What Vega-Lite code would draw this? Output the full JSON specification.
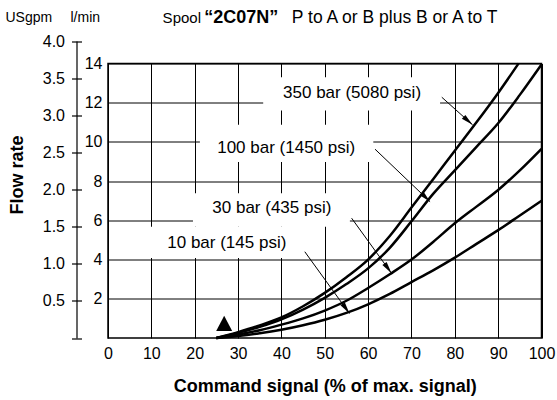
{
  "$schema": "https://vega.github.io/schema/vega-lite/v6.json",
  "width": 433.5,
  "height": 274.5,
  "autosize": {"type": "none"},
  "padding": {"left": 108, "top": 63.5, "right": 15.5, "bottom": 62},
  "config": {
    "font": "Liberation Sans",
    "view": {"stroke": "black", "strokeWidth": 1.5},
    "axis": {"labelFont": "Liberation Sans", "titleFont": "Liberation Sans", "labelColor": "black", "titleColor": "black"},
    "text": {"font": "Liberation Sans", "color": "black"}
  },
  "datasets": {
    "curves": [
      {"signal": 25, "flow": 0, "pressure": "350 bar"},
      {"signal": 30, "flow": 0.3, "pressure": "350 bar"},
      {"signal": 35, "flow": 0.64, "pressure": "350 bar"},
      {"signal": 40, "flow": 1.05, "pressure": "350 bar"},
      {"signal": 45, "flow": 1.62, "pressure": "350 bar"},
      {"signal": 50, "flow": 2.3, "pressure": "350 bar"},
      {"signal": 55, "flow": 3.1, "pressure": "350 bar"},
      {"signal": 60, "flow": 4.0, "pressure": "350 bar"},
      {"signal": 65, "flow": 5.2, "pressure": "350 bar"},
      {"signal": 70, "flow": 6.65, "pressure": "350 bar"},
      {"signal": 75, "flow": 8.1, "pressure": "350 bar"},
      {"signal": 80, "flow": 9.55, "pressure": "350 bar"},
      {"signal": 85, "flow": 11.0, "pressure": "350 bar"},
      {"signal": 90, "flow": 12.5, "pressure": "350 bar"},
      {"signal": 94.7, "flow": 14, "pressure": "350 bar"},
      {"signal": 25, "flow": 0, "pressure": "100 bar"},
      {"signal": 30, "flow": 0.26, "pressure": "100 bar"},
      {"signal": 35, "flow": 0.57, "pressure": "100 bar"},
      {"signal": 40, "flow": 0.95, "pressure": "100 bar"},
      {"signal": 45, "flow": 1.45, "pressure": "100 bar"},
      {"signal": 50, "flow": 2.05, "pressure": "100 bar"},
      {"signal": 55, "flow": 2.75, "pressure": "100 bar"},
      {"signal": 60, "flow": 3.55, "pressure": "100 bar"},
      {"signal": 65, "flow": 4.6, "pressure": "100 bar"},
      {"signal": 70, "flow": 5.95, "pressure": "100 bar"},
      {"signal": 75, "flow": 7.35, "pressure": "100 bar"},
      {"signal": 80, "flow": 8.55, "pressure": "100 bar"},
      {"signal": 85, "flow": 9.75, "pressure": "100 bar"},
      {"signal": 90, "flow": 10.95, "pressure": "100 bar"},
      {"signal": 95, "flow": 12.4, "pressure": "100 bar"},
      {"signal": 100, "flow": 13.95, "pressure": "100 bar"},
      {"signal": 25, "flow": 0, "pressure": "30 bar"},
      {"signal": 30, "flow": 0.18, "pressure": "30 bar"},
      {"signal": 35, "flow": 0.4, "pressure": "30 bar"},
      {"signal": 40, "flow": 0.68, "pressure": "30 bar"},
      {"signal": 45, "flow": 1.0, "pressure": "30 bar"},
      {"signal": 50, "flow": 1.4, "pressure": "30 bar"},
      {"signal": 55, "flow": 1.9, "pressure": "30 bar"},
      {"signal": 60, "flow": 2.55, "pressure": "30 bar"},
      {"signal": 65, "flow": 3.25, "pressure": "30 bar"},
      {"signal": 70, "flow": 4.0, "pressure": "30 bar"},
      {"signal": 75, "flow": 4.9, "pressure": "30 bar"},
      {"signal": 80, "flow": 5.85, "pressure": "30 bar"},
      {"signal": 85, "flow": 6.7, "pressure": "30 bar"},
      {"signal": 90, "flow": 7.55, "pressure": "30 bar"},
      {"signal": 95, "flow": 8.55, "pressure": "30 bar"},
      {"signal": 100, "flow": 9.65, "pressure": "30 bar"},
      {"signal": 25, "flow": 0, "pressure": "10 bar"},
      {"signal": 30, "flow": 0.1, "pressure": "10 bar"},
      {"signal": 35, "flow": 0.24, "pressure": "10 bar"},
      {"signal": 40, "flow": 0.42, "pressure": "10 bar"},
      {"signal": 45, "flow": 0.65, "pressure": "10 bar"},
      {"signal": 50, "flow": 0.93, "pressure": "10 bar"},
      {"signal": 55, "flow": 1.28, "pressure": "10 bar"},
      {"signal": 60, "flow": 1.72, "pressure": "10 bar"},
      {"signal": 65, "flow": 2.25, "pressure": "10 bar"},
      {"signal": 70, "flow": 2.85, "pressure": "10 bar"},
      {"signal": 75, "flow": 3.45, "pressure": "10 bar"},
      {"signal": 80, "flow": 4.1, "pressure": "10 bar"},
      {"signal": 85, "flow": 4.8, "pressure": "10 bar"},
      {"signal": 90, "flow": 5.5, "pressure": "10 bar"},
      {"signal": 95, "flow": 6.25, "pressure": "10 bar"},
      {"signal": 100, "flow": 7.0, "pressure": "10 bar"}
    ]
  },
  "layer": [
    {
      "layer": [
        {"data": {"values": [{}]}, "mark": {"type": "rect", "color": "white"},
          "encoding": {"x": {"datum": 35.8, "type": "quantitative"}, "x2": {"datum": 76.6},
            "y": {"datum": 11.6, "type": "quantitative"}, "y2": {"datum": 13.3}}},
        {"data": {"values": [{}]}, "mark": {"type": "rect", "color": "white"},
          "encoding": {"x": {"datum": 21.2, "type": "quantitative"}, "x2": {"datum": 61.2},
            "y": {"datum": 8.98, "type": "quantitative"}, "y2": {"datum": 10.87}}},
        {"data": {"values": [{}]}, "mark": {"type": "rect", "color": "white"},
          "encoding": {"x": {"datum": 19.6, "type": "quantitative"}, "x2": {"datum": 55.8},
            "y": {"datum": 5.68, "type": "quantitative"}, "y2": {"datum": 7.38}}},
        {"data": {"values": [{}]}, "mark": {"type": "rect", "color": "white"},
          "encoding": {"x": {"datum": 9.7, "type": "quantitative"}, "x2": {"datum": 43.8},
            "y": {"datum": 4.08, "type": "quantitative"}, "y2": {"datum": 5.68}}},
        {
          "data": {"name": "curves"},
          "mark": {"type": "line", "color": "black", "strokeWidth": 2.5, "interpolate": "monotone"},
          "encoding": {
            "x": {"field": "signal", "type": "quantitative",
              "scale": {"domain": [0, 100], "nice": false, "zero": true},
              "axis": {"values": [0, 10, 20, 30, 40, 50, 60, 70, 80, 90, 100], "ticks": false, "domain": false,
                "grid": true, "gridColor": "black", "gridWidth": 1, "gridOpacity": 1,
                "labelFontSize": 16, "labelPadding": 7, "labelFlush": false,
                "title": "Command signal (% of max. signal)", "titleFontSize": 18, "titleFontWeight": "bold", "titlePadding": 16}},
            "y": {"field": "flow", "type": "quantitative",
              "scale": {"domain": [0, 14], "nice": false, "zero": true},
              "axis": {"values": [2, 4, 6, 8, 10, 12, 14], "ticks": false, "domain": false,
                "grid": true, "gridColor": "black", "gridWidth": 1, "gridOpacity": 1,
                "labelFontSize": 16, "labelPadding": 6, "labelFlush": false,
                "title": "Flow rate", "titleFontSize": 18, "titleFontWeight": "bold", "titleAngle": 270,
                "titleX": -91, "titleY": 111, "titleAlign": "center", "titleBaseline": "middle"}},
            "detail": {"field": "pressure", "type": "nominal"}
          }
        },
        {"data": {"values": [{}]}, "mark": {"type": "text", "text": "350 bar (5080 psi)", "fontSize": 17, "align": "center", "baseline": "middle"},
          "encoding": {"x": {"datum": 56.3, "type": "quantitative"}, "y": {"datum": 12.5, "type": "quantitative"}}},
        {"data": {"values": [{}]}, "mark": {"type": "text", "text": "100 bar (1450 psi)", "fontSize": 17, "align": "center", "baseline": "middle"},
          "encoding": {"x": {"datum": 41.1, "type": "quantitative"}, "y": {"datum": 9.69, "type": "quantitative"}}},
        {"data": {"values": [{}]}, "mark": {"type": "text", "text": "30 bar (435 psi)", "fontSize": 17, "align": "center", "baseline": "middle"},
          "encoding": {"x": {"datum": 37.8, "type": "quantitative"}, "y": {"datum": 6.62, "type": "quantitative"}}},
        {"data": {"values": [{}]}, "mark": {"type": "text", "text": "10 bar (145 psi)", "fontSize": 17, "align": "center", "baseline": "middle"},
          "encoding": {"x": {"datum": 27.4, "type": "quantitative"}, "y": {"datum": 4.83, "type": "quantitative"}}},
        {"data": {"values": [{}]}, "mark": {"type": "rule", "color": "black", "strokeWidth": 1},
          "encoding": {"x": {"datum": 77.0, "type": "quantitative"}, "y": {"datum": 12.28, "type": "quantitative"}, "x2": {"datum": 84.1}, "y2": {"datum": 10.87}}},
        {"data": {"values": [{}]}, "mark": {"type": "rule", "color": "black", "strokeWidth": 1},
          "encoding": {"x": {"datum": 61.6, "type": "quantitative"}, "y": {"datum": 9.63, "type": "quantitative"}, "x2": {"datum": 74.3}, "y2": {"datum": 6.95}}},
        {"data": {"values": [{}]}, "mark": {"type": "rule", "color": "black", "strokeWidth": 1},
          "encoding": {"x": {"datum": 56.2, "type": "quantitative"}, "y": {"datum": 6.11, "type": "quantitative"}, "x2": {"datum": 65.4}, "y2": {"datum": 3.3}}},
        {"data": {"values": [{}]}, "mark": {"type": "rule", "color": "black", "strokeWidth": 1},
          "encoding": {"x": {"datum": 45.4, "type": "quantitative"}, "y": {"datum": 4.4, "type": "quantitative"}, "x2": {"datum": 55.7}, "y2": {"datum": 1.25}}},
        {"data": {"values": [{}]}, "mark": {"type": "point", "shape": "M0,0L0.35,1.6L-0.35,1.6Z", "filled": true, "color": "black", "opacity": 1, "size": 225, "angle": 131.8},
          "encoding": {"x": {"datum": 84.1, "type": "quantitative"}, "y": {"datum": 10.87, "type": "quantitative"}}},
        {"data": {"values": [{}]}, "mark": {"type": "point", "shape": "M0,0L0.35,1.6L-0.35,1.6Z", "filled": true, "color": "black", "opacity": 1, "size": 225, "angle": 134.8},
          "encoding": {"x": {"datum": 74.3, "type": "quantitative"}, "y": {"datum": 6.95, "type": "quantitative"}}},
        {"data": {"values": [{}]}, "mark": {"type": "point", "shape": "M0,0L0.35,1.6L-0.35,1.6Z", "filled": true, "color": "black", "opacity": 1, "size": 225, "angle": 144.3},
          "encoding": {"x": {"datum": 65.4, "type": "quantitative"}, "y": {"datum": 3.3, "type": "quantitative"}}},
        {"data": {"values": [{}]}, "mark": {"type": "point", "shape": "M0,0L0.35,1.6L-0.35,1.6Z", "filled": true, "color": "black", "opacity": 1, "size": 225, "angle": 145.2},
          "encoding": {"x": {"datum": 55.7, "type": "quantitative"}, "y": {"datum": 1.25, "type": "quantitative"}}},
        {"data": {"values": [{}]}, "mark": {"type": "point", "shape": "M0,-1L1,0.9L-1,0.9Z", "filled": true, "color": "black", "opacity": 1, "size": 256},
          "encoding": {"x": {"datum": 26.8, "type": "quantitative"}, "y": {"datum": 0.73, "type": "quantitative"}}},
        {"data": {"values": [{}]}, "mark": {"type": "text", "text": "Spool", "fontSize": 15, "align": "left", "baseline": "middle"},
          "encoding": {"x": {"datum": 12.6, "type": "quantitative"}, "y": {"datum": 16.3, "type": "quantitative"}}},
        {"data": {"values": [{}]}, "mark": {"type": "text", "text": "“2C07N”", "fontSize": 18, "fontWeight": "bold", "align": "left", "baseline": "middle"},
          "encoding": {"x": {"datum": 22.2, "type": "quantitative"}, "y": {"datum": 16.3, "type": "quantitative"}}},
        {"data": {"values": [{}]}, "mark": {"type": "text", "text": "P to A or B plus B or A to T", "fontSize": 17.5, "align": "left", "baseline": "middle"},
          "encoding": {"x": {"datum": 42.4, "type": "quantitative"}, "y": {"datum": 16.3, "type": "quantitative"}}}
      ]
    },
    {
      "data": {"values": [{}]},
      "mark": {"type": "point", "opacity": 0},
      "encoding": {
        "y": {"datum": 0, "type": "quantitative",
          "scale": {"domain": [0, 4], "range": [274.5, -22.38], "nice": false, "zero": true},
          "axis": {"orient": "left", "offset": 31.5, "values": [0, 0.5, 1, 1.5, 2, 2.5, 3, 3.5, 4],
            "labelExpr": "datum.value == 0 ? '' : format(datum.value, '.1f')",
            "grid": false, "domain": true, "domainColor": "black", "domainWidth": 1.2,
            "ticks": true, "tickSize": 5, "tickColor": "black", "tickWidth": 1.2,
            "labelFontSize": 16, "labelPadding": 7, "labelFlush": false,
            "title": "USgpm", "titleAngle": 0, "titleFontSize": 14, "titleFontWeight": "normal",
            "titleX": -71.5, "titleY": -46, "titleAlign": "left", "titleBaseline": "middle"}}
      }
    },
    {
      "data": {"values": [{}]},
      "mark": {"type": "point", "opacity": 0},
      "encoding": {
        "y": {"datum": 0, "type": "quantitative",
          "scale": {"domain": [0, 4], "range": [274.5, -22.38], "nice": false, "zero": true},
          "axis": {"orient": "left", "offset": 31.5, "values": [0, 0.5, 1, 1.5, 2, 2.5, 3, 3.5, 4],
            "labels": false, "grid": false, "domain": false,
            "ticks": true, "tickSize": -5, "tickColor": "black", "tickWidth": 1.2,
            "title": "l/min", "titleAngle": 0, "titleFontSize": 14, "titleFontWeight": "normal",
            "titleX": -6.5, "titleY": -46, "titleAlign": "left", "titleBaseline": "middle"}}
      }
    }
  ],
  "resolve": {"scale": {"y": "independent"}, "axis": {"y": "independent"}}
}
